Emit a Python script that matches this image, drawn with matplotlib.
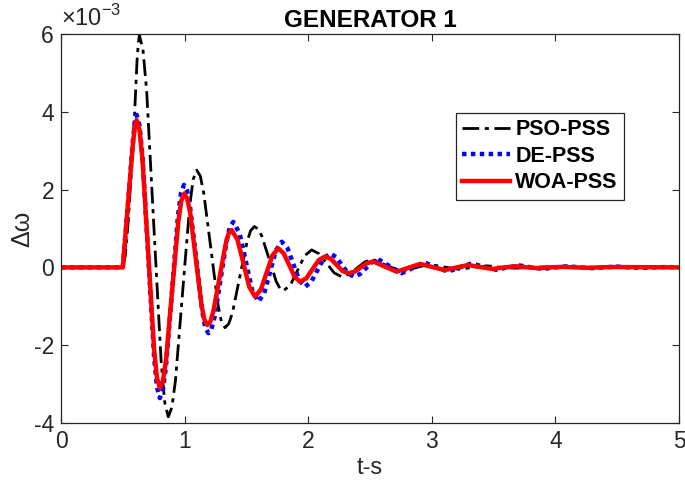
import matplotlib
matplotlib.use("Agg")
import matplotlib.pyplot as plt

plt.rcParams['font.family'] = ['Liberation Sans', 'DejaVu Sans']
plt.rcParams['mathtext.fontset'] = 'custom'
plt.rcParams['mathtext.rm'] = 'Liberation Sans'
plt.rcParams['axes.unicode_minus'] = False

# values, delta omega in units of 1e-3
t_pso = [0, 0.5, 0.52, 0.545, 0.593, 0.615, 0.625, 0.634, 0.663, 0.693, 0.751, 0.810, 0.839, 0.868,
         0.897, 0.926, 0.983, 1.041, 1.069, 1.098, 1.127, 1.155, 1.213, 1.270, 1.298, 1.327,
         1.357, 1.387, 1.446, 1.506, 1.535, 1.565, 1.594, 1.624, 1.683, 1.741, 1.771, 1.80,
         1.857, 1.914, 1.971, 2.028, 2.089, 2.150, 2.210, 2.271,
         2.333, 2.396, 2.458, 2.52, 2.635, 2.75, 2.865, 2.98, 3.10, 3.22,
         3.335, 3.45, 3.565, 3.68, 3.80, 3.92, 4.05, 5.0]
w_pso = [0, 0, 0.3, 1.22, 3.79, 5.3, 5.75, 5.97, 5.60, 4.54, 1.065, -2.41, -3.47, -3.84,
         -3.60, -2.91, -0.67, 1.57, 2.26, 2.50, 2.35, 1.91, 0.475, -0.96, -1.40, -1.55,
         -1.45, -1.17, -0.25, 0.67, 0.95, 1.05, 0.99, 0.81, 0.225, -0.36, -0.54, -0.60,
         -0.45, -0.075, 0.30, 0.45, 0.35, 0.105, -0.14, -0.24,
         -0.17, -0.015, 0.14, 0.21, 0.05, -0.10, -0.01, 0.08, 0.01, -0.05,
         0.0, 0.04, 0.0, -0.02, 0.0, 0.015, 0.0, 0.0]

t_de = [0, 0.5, 0.553, 0.58, 0.598, 0.612, 0.6355, 0.659, 0.706, 0.753, 0.7765, 0.80,
        0.824, 0.849, 0.898, 0.946, 0.971, 0.995, 1.0196, 1.044, 1.094, 1.143, 1.167, 1.192,
        1.217, 1.243, 1.293, 1.344, 1.369, 1.394, 1.445, 1.496, 1.546, 1.597,
        1.644, 1.692, 1.739, 1.786, 1.833, 1.880, 1.927, 1.974,
        2.025, 2.075, 2.126, 2.176, 2.225, 2.273, 2.322, 2.37,
        2.419, 2.469, 2.518, 2.567, 2.66, 2.756, 2.85, 2.945, 3.04, 3.13,
        3.225, 3.32, 3.42, 3.52, 3.615, 3.71, 3.805, 3.90, 4.0, 4.10,
        4.20, 4.30, 4.40, 4.50, 4.60, 4.70, 4.80, 4.90, 5.0]
w_de = [0, 0, 2.07, 3.2, 3.75, 3.92, 3.64, 2.86, 0.28, -2.30, -3.08, -3.36,
        -3.15, -2.56, -0.62, 1.32, 1.91, 2.12, 1.98, 1.56, 0.215, -1.13, -1.55, -1.69,
        -1.58, -1.27, -0.26, 0.75, 1.06, 1.17, 0.87, 0.145, -0.58, -0.88,
        -0.66, -0.11, 0.44, 0.66, 0.49, 0.08, -0.33, -0.50,
        -0.37, -0.07, 0.23, 0.36, 0.27, 0.06, -0.15, -0.24,
        -0.17, -0.015, 0.14, 0.21, 0.03, -0.15, -0.01, 0.12, 0.0, -0.11,
        0.0, 0.10, 0.02, -0.06, 0.0, 0.05, 0.0, -0.04, 0.0, 0.03,
        0.0, -0.02, 0.0, 0.02, 0.0, -0.01, 0.0, 0.01, 0.0]

t_woa = [0, 0.5, 0.553, 0.58, 0.597, 0.612, 0.6355, 0.659, 0.706, 0.753, 0.7765, 0.80,
         0.825, 0.850, 0.899, 0.949, 0.973, 0.998, 1.021, 1.045, 1.091, 1.138, 1.161, 1.184,
         1.209, 1.233, 1.283, 1.332, 1.356, 1.381, 1.428, 1.476, 1.523, 1.570,
         1.617, 1.664, 1.711, 1.758, 1.802, 1.846, 1.890, 1.934,
         1.985, 2.035, 2.086, 2.136, 2.183, 2.230, 2.277, 2.324,
         2.375, 2.426, 2.476, 2.527, 2.62, 2.716, 2.81, 2.905, 3.005, 3.107,
         3.20, 3.295, 3.39, 3.49, 3.585, 3.68, 3.775, 3.87, 3.96, 4.06,
         4.25, 4.45, 5.0]
w_woa = [0, 0, 2.07, 3.1, 3.6, 3.79, 3.53, 2.78, 0.345, -2.09, -2.84, -3.10,
         -2.91, -2.37, -0.60, 1.17, 1.71, 1.90, 1.77, 1.41, 0.21, -0.99, -1.35, -1.48,
         -1.39, -1.12, -0.26, 0.60, 0.87, 0.96, 0.71, 0.105, -0.50, -0.75,
         -0.57, -0.13, 0.31, 0.49, 0.36, 0.06, -0.24, -0.37,
         -0.28, -0.045, 0.19, 0.28, 0.22, 0.065, -0.09, -0.15,
         -0.11, 0.0, 0.11, 0.15, 0.02, -0.11, -0.01, 0.09, 0.01, -0.07,
         0.0, 0.06, 0.01, -0.04, 0.0, 0.03, 0.0, -0.02, 0.0, 0.015,
         -0.01, 0.01, 0.0]

xticks = [0, 1, 2, 3, 4, 5]
yticks = [-4, -2, 0, 2, 4, 6]

fig = plt.figure(figsize=(6.85, 4.87), dpi=100)
ax = fig.add_axes([61/685, 64/487, 618/685, 389/487])

ax.plot(t_pso, w_pso, color='black', linestyle=(0, (6, 2, 1.5, 2)), linewidth=2,
        dash_joinstyle='round', label='PSO-PSS')
ax.plot(t_de, w_de, color='blue', linestyle=(0, (1, 1)), linewidth=3.2, label='DE-PSS')
ax.plot(t_woa, w_woa, color='red', linestyle='-', linewidth=3.2,
        solid_joinstyle='round', label='WOA-PSS')

ax.set_xlim(0, 5)
ax.set_ylim(-4, 6)
ax.set_xticks(xticks)
ax.set_yticks(yticks)
ax.set_xticklabels([str(v) for v in xticks])
ax.set_yticklabels([str(v) for v in yticks])
ax.tick_params(direction='in', length=5, width=0.8, top=True, right=True,
               labelsize=16.5, colors='#262626', pad=5)
for s in ax.spines.values():
    s.set_color('#262626')
    s.set_linewidth(0.9)

ax.set_xlabel('t-s', fontsize=17, color='#262626', labelpad=3)
ax.set_ylabel('Δω', fontsize=18, color='#262626', labelpad=0)
ax.set_title('GENERATOR 1', fontsize=17.5, fontweight='bold', pad=5)
ax.text(0.0, 1.008, r'$\times10^{-3}$', transform=ax.transAxes, fontsize=17,
        color='#262626', ha='left', va='bottom')

leg = ax.legend(loc='upper right', bbox_to_anchor=(0.911, 0.797), borderaxespad=0,
                fancybox=False, framealpha=1, edgecolor='#262626',
                prop={'weight': 'bold', 'size': 15.5}, handlelength=2.2,
                handletextpad=0.25, labelspacing=0.25, borderpad=0.3)
leg.get_frame().set_linewidth(0.9)

fig.savefig('out.png', dpi=100)
